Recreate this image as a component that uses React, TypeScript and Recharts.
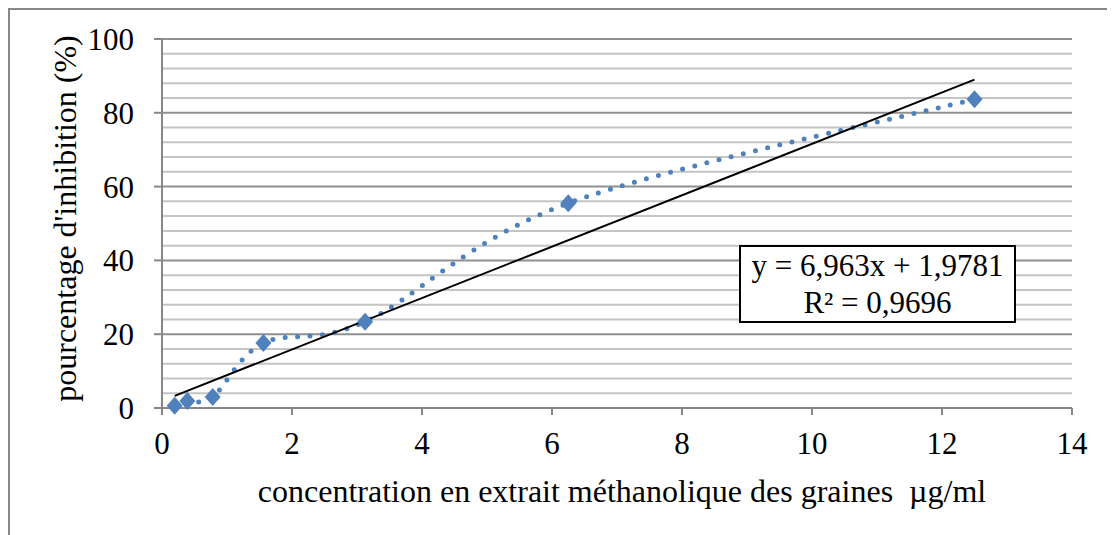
import {
  ComposedChart,
  Line,
  Scatter,
  XAxis,
  YAxis,
  ReferenceLine,
} from 'recharts'

// concentration (µg/ml) and % inhibition
const concentrations = [0.195, 0.39, 0.78, 1.56, 3.125, 6.25, 12.5]
const inhibition = [0.6, 1.9, 3.0, 17.6, 23.4, 55.5, 83.7]

// linear trendline ends (y = 6,963x + 1,9781)
const trendX = [0.195, 12.5]
const trendY = [3.3, 89.0]

const xTicks = [0, 2, 4, 6, 8, 10, 12, 14]
const yTicks = [0, 20, 40, 60, 80, 100]
const yMinorLines = [4, 8, 12, 16, 24, 28, 32, 36, 44, 48, 52, 56, 64, 68, 72, 76, 84, 88, 92, 96]

const points = concentrations.map((x, i) => ({ x, y: inhibition[i] }))
const trend = trendX.map((x, i) => ({ x, y: trendY[i] }))

const FONT = '"Liberation Serif", "Times New Roman", serif'
const BLUE = '#4f81bd'
const AXIS = '#878787'

// Excel-style smoothed line (Catmull-Rom bezier in pixel space)
function excelSmooth(context: any) {
  let pts: number[][] = []
  return {
    areaStart() {},
    areaEnd() {},
    lineStart() {
      pts = []
    },
    point(x: number, y: number) {
      pts.push([+x, +y])
    },
    lineEnd() {
      const n = pts.length
      if (!n) return
      context.moveTo(pts[0][0], pts[0][1])
      for (let i = 0; i < n - 1; i++) {
        const p0 = pts[Math.max(i - 1, 0)]
        const p1 = pts[i]
        const p2 = pts[i + 1]
        const p3 = pts[Math.min(i + 2, n - 1)]
        context.bezierCurveTo(
          p1[0] + (p2[0] - p0[0]) / 6,
          p1[1] + (p2[1] - p0[1]) / 6,
          p2[0] - (p3[0] - p1[0]) / 6,
          p2[1] - (p3[1] - p1[1]) / 6,
          p2[0],
          p2[1]
        )
      }
    },
  }
}

function Diamond(props: any) {
  const { cx, cy } = props
  if (cx == null || cy == null) return null
  const w = 8
  const h = 9
  return (
    <polygon
      points={`${cx},${cy - h} ${cx + w},${cy} ${cx},${cy + h} ${cx - w},${cy}`}
      fill={BLUE}
    />
  )
}

export default function App() {
  return (
    <div
      style={{
        position: 'relative',
        width: 1105,
        height: 525,
        borderTop: `2px solid ${AXIS}`,
        borderLeft: `2px solid ${AXIS}`,
        fontFamily: FONT,
      }}
    >
      <ComposedChart
        width={1105}
        height={525}
        margin={{ top: 29, right: 43, left: 0, bottom: 47 }}
      >
        <XAxis
          dataKey="x"
          type="number"
          domain={[0, 14]}
          ticks={xTicks}
          allowDataOverflow
          height={80}
          stroke={AXIS}
          strokeWidth={2}
          tickSize={7}
          tickMargin={17}
          tick={{ fill: '#000', fontSize: 31, fontFamily: FONT }}
          label={{
            content: ({ viewBox }: any) => (
              <text
                x={viewBox.x + viewBox.width / 2 + 5}
                y={viewBox.y + 94}
                textAnchor="middle"
                fontSize={32}
                fontFamily={FONT}
                fill="#000"
              >
                concentration en extrait méthanolique des graines{'\u00a0\u00a0'}µg/ml
              </text>
            ),
          }}
        />
        <YAxis
          type="number"
          domain={[0, 100]}
          ticks={yTicks}
          width={152}
          stroke={AXIS}
          strokeWidth={2}
          tickSize={8}
          tickMargin={20}
          tick={{ fill: '#000', fontSize: 31, fontFamily: FONT }}
          label={{
            content: ({ viewBox }: any) => {
              const cx = viewBox.x + 55
              const cy = viewBox.y + viewBox.height / 2 - 5
              return (
                <text
                  x={cx}
                  y={cy}
                  transform={`rotate(-90, ${cx}, ${cy})`}
                  textAnchor="middle"
                  dominantBaseline="central"
                  fontSize={32}
                  fontFamily={FONT}
                  fill="#000"
                >
                  pourcentage d'inhibition{'\u00a0'}(%)
                </text>
              )
            },
          }}
        />
        {yMinorLines.map((v) => (
          <ReferenceLine key={`m${v}`} y={v} stroke="#c4c4c4" strokeWidth={2} />
        ))}
        {yTicks.filter((v) => v > 0).map((v) => (
          <ReferenceLine key={`M${v}`} y={v} stroke="#8f8f8f" strokeWidth={2} />
        ))}
        <Line
          data={points}
          dataKey="y"
          type={excelSmooth as any}
          stroke={BLUE}
          strokeWidth={5}
          strokeDasharray="0 12.5"
          strokeLinecap="round"
          dot={false}
          activeDot={false}
          isAnimationActive={false}
        />
        <Scatter
          data={points}
          dataKey="y"
          shape={Diamond}
          isAnimationActive={false}
        />
        <Line
          data={trend}
          dataKey="y"
          type="linear"
          stroke="#000"
          strokeWidth={2}
          dot={false}
          activeDot={false}
          isAnimationActive={false}
        />
      </ComposedChart>
      <div
        style={{
          position: 'absolute',
          left: 729,
          top: 235,
          width: 273,
          border: '2px solid #000',
          background: '#fff',
          fontSize: 31,
          lineHeight: '37px',
          textAlign: 'center',
          color: '#000',
        }}
      >
        <div>y = 6,963x + 1,9781</div>
        <div>R² = 0,9696</div>
      </div>
    </div>
  )
}
